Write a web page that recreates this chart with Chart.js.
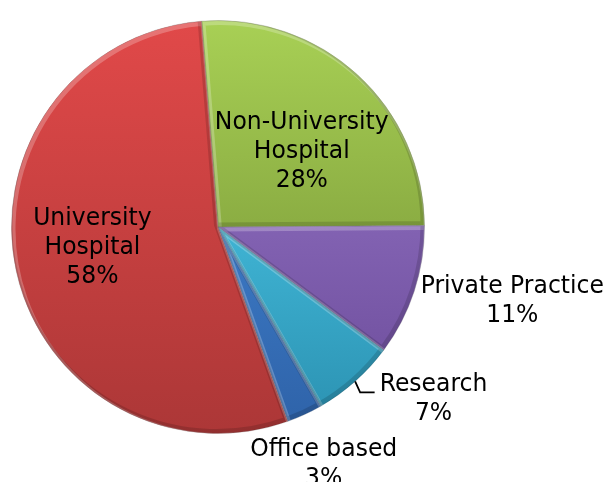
<!DOCTYPE html>
<html>
<head>
<meta charset="utf-8">
<script src="https://cdn.jsdelivr.net/npm/chart.js@4.4.1/dist/chart.umd.min.js"></script>
<style>
html,body{margin:0;padding:0;background:#fff;}
#wrap{width:608px;height:482px;position:relative;}
</style>
</head>
<body>
<div id="wrap"><canvas id="c" width="608" height="482"></canvas></div>
<script>
// ---- data ----
const categories = ['Non-University Hospital', 'Private Practice', 'Research', 'Office based', 'University Hospital'];
const labelLines = [['Non-University', 'Hospital'], ['Private Practice'], ['Research'], ['Office based'], ['University', 'Hospital']];
const values = [28, 11, 7, 3, 58];
const valueLabels = ['28%', '11%', '7%', '3%', '58%'];

// ---- styles ----
const topColors = ['#A8D055', '#9A7ACC', '#55D8F8', '#4A90E0', '#E14949'];
const bottomColors = ['#6E8A30', '#6A4A98', '#2A90B0', '#2E62A8', '#AC3737'];
// label placement: [angle offset from slice middle (deg), distance as fraction of radius]
const labelPlace = [[4.6, 0.554], [-4.4, 1.467], [-10.2, 1.328], [0.6, 1.25], [3.6, 0.615]];
const leader = [false, false, true, false, false];
const FONT = '23.5px "DejaVu Sans", Verdana, sans-serif';
const LINE_H = 29;
const V_STRETCH = 1.06;

function sliceGradient(context) {
  const chart = context.chart;
  const area = chart.chartArea;
  const i = context.dataIndex;
  if (!area) return topColors[i];
  const g = chart.ctx.createLinearGradient(0, area.top, 0, area.bottom);
  g.addColorStop(0, topColors[i]);
  g.addColorStop(1, bottomColors[i]);
  return g;
}

function arcPath(ctx, a, dx, dy) {
  ctx.beginPath();
  ctx.moveTo(a.x + dx, a.y + dy);
  ctx.arc(a.x + dx, a.y + dy, a.outerRadius, a.startAngle, a.endAngle);
  ctx.closePath();
}

const bevelPlugin = {
  id: 'bevel',
  afterDatasetsDraw(chart) {
    const ctx = chart.ctx;
    const arcs = chart.getDatasetMeta(0).data;
    arcs.forEach((a) => {
      ctx.save();
      arcPath(ctx, a, 0, 0);
      ctx.clip();
      ctx.lineJoin = 'round';
      arcPath(ctx, a, 1.5, 2);
      ctx.lineWidth = 5;
      ctx.strokeStyle = 'rgba(255,255,255,0.24)';
      ctx.stroke();
      arcPath(ctx, a, -1.5, -2);
      ctx.lineWidth = 5;
      ctx.strokeStyle = 'rgba(0,0,0,0.14)';
      ctx.stroke();
      ctx.restore();
    });
  }
};

const labelPlugin = {
  id: 'sliceLabels',
  afterDatasetsDraw(chart) {
    const ctx = chart.ctx;
    const arcs = chart.getDatasetMeta(0).data;
    ctx.save();
    ctx.font = FONT;
    ctx.fillStyle = '#000';
    ctx.textAlign = 'center';
    ctx.textBaseline = 'middle';
    arcs.forEach((a, i) => {
      const mid = (a.startAngle + a.endAngle) / 2;
      const ang = mid + labelPlace[i][0] * Math.PI / 180;
      const d = a.outerRadius * labelPlace[i][1];
      const cx = a.x + Math.cos(ang) * d;
      const cy = a.y + Math.sin(ang) * d + 2;
      const lines = labelLines[i].concat([valueLabels[i]]);
      const y0 = cy - (lines.length - 1) * LINE_H / 2;
      let maxW = 0;
      lines.forEach((t, k) => {
        ctx.save();
        ctx.translate(cx, y0 + k * LINE_H);
        ctx.scale(1, V_STRETCH);
        ctx.fillText(t, 0, 0);
        ctx.restore();
        maxW = Math.max(maxW, ctx.measureText(t).width);
      });
      if (leader[i]) {
        const sx = a.x + Math.cos(mid) * a.outerRadius;
        const sy = a.y + Math.sin(mid) * a.outerRadius;
        const ex = cx - maxW / 2 - 5;
        ctx.beginPath();
        ctx.moveTo(sx, sy);
        ctx.lineTo(sx + 5, sy + 11);
        ctx.lineTo(ex, sy + 11);
        ctx.strokeStyle = '#000';
        ctx.lineWidth = 1.8;
        ctx.stroke();
      }
    });
    ctx.restore();
  }
};

new Chart(document.getElementById('c'), {
  type: 'pie',
  data: {
    labels: categories,
    datasets: [{
      data: values,
      backgroundColor: sliceGradient,
      borderColor: 'rgba(60,60,60,0.2)',
      borderWidth: 1
    }]
  },
  options: {
    responsive: false,
    animation: false,
    rotation: -4.6,
    layout: { padding: { left: 11, top: 20, right: 183, bottom: 48 } },
    plugins: {
      legend: { display: false },
      tooltip: { enabled: false }
    }
  },
  plugins: [bevelPlugin, labelPlugin]
});
</script>
</body>
</html>
